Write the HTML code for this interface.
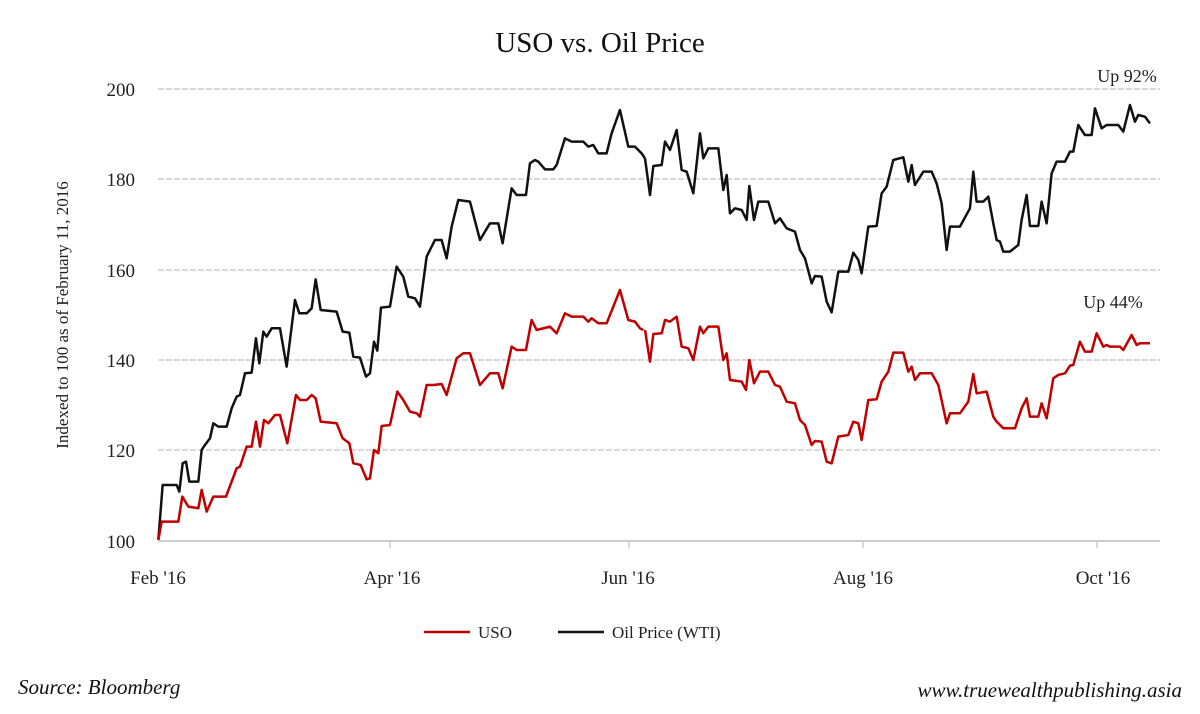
<!DOCTYPE html>
<html><head><meta charset="utf-8"><style>
body{margin:0;background:#fff;}
svg{display:block;font-family:"Liberation Serif",serif;}
</style></head><body>
<svg width="1200" height="714" viewBox="0 0 1200 714">
<text x="600" y="52" font-size="29" text-anchor="middle" fill="#111">USO vs. Oil Price</text>
<g stroke="#ccc" stroke-width="1.5" stroke-dasharray="6,2">
<line x1="158" y1="89" x2="1160" y2="89"/><line x1="158" y1="179" x2="1160" y2="179"/>
<line x1="158" y1="270" x2="1160" y2="270"/><line x1="158" y1="360" x2="1160" y2="360"/>
<line x1="158" y1="450" x2="1160" y2="450"/></g>
<line x1="158" y1="541" x2="1160" y2="541" stroke="#ccc" stroke-width="2"/>
<g stroke="#ccc" stroke-width="1.5"><line x1="390" y1="541" x2="390" y2="548"/><line x1="629" y1="541" x2="629" y2="548"/><line x1="863" y1="541" x2="863" y2="548"/><line x1="1097" y1="541" x2="1097" y2="548"/></g>
<g font-size="19" fill="#222" text-anchor="end">
<text x="135" y="96">200</text><text x="135" y="186">180</text><text x="135" y="277">160</text>
<text x="135" y="367">140</text><text x="135" y="457">120</text><text x="135" y="548">100</text></g>
<g font-size="19" fill="#222" text-anchor="middle">
<text x="158" y="584">Feb '16</text><text x="392" y="584">Apr '16</text><text x="628" y="584">Jun '16</text>
<text x="863" y="584">Aug '16</text><text x="1103" y="584">Oct '16</text></g>
<text transform="translate(68,315) rotate(-90)" font-size="17" fill="#222" text-anchor="middle">Indexed to 100 as of February 11, 2016</text>
<text x="1127" y="82" font-size="18" fill="#222" text-anchor="middle">Up 92%</text>
<text x="1113" y="308" font-size="18" fill="#222" text-anchor="middle">Up 44%</text>
<g fill="none" stroke-width="2.5" stroke-linejoin="round">
<g transform="translate(150,80) scale(0.3333)">
<polyline vector-effect="non-scaling-stroke" stroke="#111" points="25,1380 38,1215 80,1215 88,1235 98,1150 108,1145 118,1205 145,1205 155,1110 165,1095 180,1075 190,1030 205,1040 230,1040 245,985 260,950 270,945 285,880 305,878 318,775 328,850 340,755 350,770 365,745 390,745 410,860 435,660 448,700 470,700 485,685 497,598 512,690 560,695 578,755 598,758 610,830 630,833 648,890 660,880 672,785 682,812 693,683 720,680 740,560 760,590 775,650 795,655 810,680 830,530 855,480 875,480 890,535 905,440 925,360 960,365 990,480 1020,430 1045,430 1058,490 1085,325 1100,345 1128,345 1140,250 1155,240 1165,245 1185,268 1210,268 1220,255 1245,175 1265,185 1300,185 1315,200 1330,195 1345,220 1370,220 1385,160 1410,90 1435,200 1455,200 1475,220 1485,235"/>
<polyline vector-effect="non-scaling-stroke" stroke="#c00000" points="25,1380 35,1325 85,1325 97,1250 115,1280 145,1285 155,1230 170,1295 190,1250 228,1250 260,1165 270,1160 290,1100 305,1100 318,1025 330,1100 342,1020 355,1030 375,1005 390,1005 412,1090 438,945 450,960 470,960 485,945 497,955 512,1025 560,1030 578,1075 598,1090 610,1150 632,1155 650,1198 660,1195 672,1110 685,1120 695,1038 720,1035 742,935 760,960 780,995 800,1000 810,1010 830,915 850,915 875,912 890,945 920,835 940,820 960,820 990,915 1020,880 1045,880 1058,925 1085,800 1100,810 1128,810 1145,720 1160,750 1200,740 1220,760 1245,700 1265,710 1300,710 1315,725 1325,715 1345,730 1370,730 1410,630 1435,720 1455,725 1470,745 1480,750"/>
</g>
<g transform="translate(640,80) scale(0.3333)">
<polyline vector-effect="non-scaling-stroke" stroke="#111" points="15,235 30,345 40,258 65,255 75,185 90,210 110,150 125,270 140,275 160,340 180,160 190,235 205,205 235,205 250,330 260,285 270,400 285,385 305,390 320,420 328,318 342,420 355,365 385,365 405,430 420,415 440,445 465,455 480,510 495,535 515,610 525,588 545,590 560,665 575,697 595,575 625,575 640,518 655,540 665,580 685,440 710,438 725,340 740,320 760,240 790,232 805,305 815,255 825,315 850,275 875,275 890,310 905,370 920,510 930,440 960,440 990,385 1000,275 1010,365 1030,365 1045,350 1060,430 1070,480 1080,485 1090,515 1110,515 1135,495 1145,420 1160,345 1170,438 1195,438 1205,365 1220,430 1235,280 1250,245 1275,245 1290,215 1300,215 1315,135 1335,165 1355,165 1365,85 1385,145 1400,135 1435,135 1450,155 1470,75 1485,125 1495,105 1515,110 1530,130"/>
<polyline vector-effect="non-scaling-stroke" stroke="#c00000" points="15,750 30,845 40,762 65,760 75,720 90,725 110,710 125,800 145,805 160,840 180,740 190,760 205,740 235,740 250,840 260,820 270,900 305,905 318,930 328,840 342,910 360,875 385,875 405,915 420,920 440,965 465,970 480,1020 495,1035 515,1095 525,1083 545,1085 560,1145 575,1150 595,1070 625,1065 640,1025 655,1030 665,1080 685,960 710,958 725,905 745,875 760,818 790,818 805,875 815,860 825,900 840,880 875,880 895,915 920,1030 930,1000 960,1000 985,965 1000,882 1010,940 1040,935 1060,1010 1070,1025 1090,1045 1125,1045 1145,985 1160,955 1170,1010 1195,1010 1205,970 1220,1015 1240,895 1255,885 1275,880 1290,857 1300,855 1320,785 1335,815 1355,815 1370,760 1390,800 1400,795 1410,800 1440,800 1450,810 1475,765 1490,795 1500,790 1530,790"/>
</g></g>
<line x1="424" y1="632" x2="470" y2="632" stroke="#c00000" stroke-width="2.5"/>
<text x="478" y="638" font-size="17" fill="#222">USO</text>
<line x1="558" y1="632" x2="604" y2="632" stroke="#111" stroke-width="2.5"/>
<text x="612" y="638" font-size="17" fill="#222">Oil Price (WTI)</text>
<text x="18" y="694" font-size="21" font-style="italic" fill="#111">Source: Bloomberg</text>
<text x="1182" y="697" font-size="21" font-style="italic" fill="#111" text-anchor="end">www.truewealthpublishing.asia</text>
</svg>
</body></html>
